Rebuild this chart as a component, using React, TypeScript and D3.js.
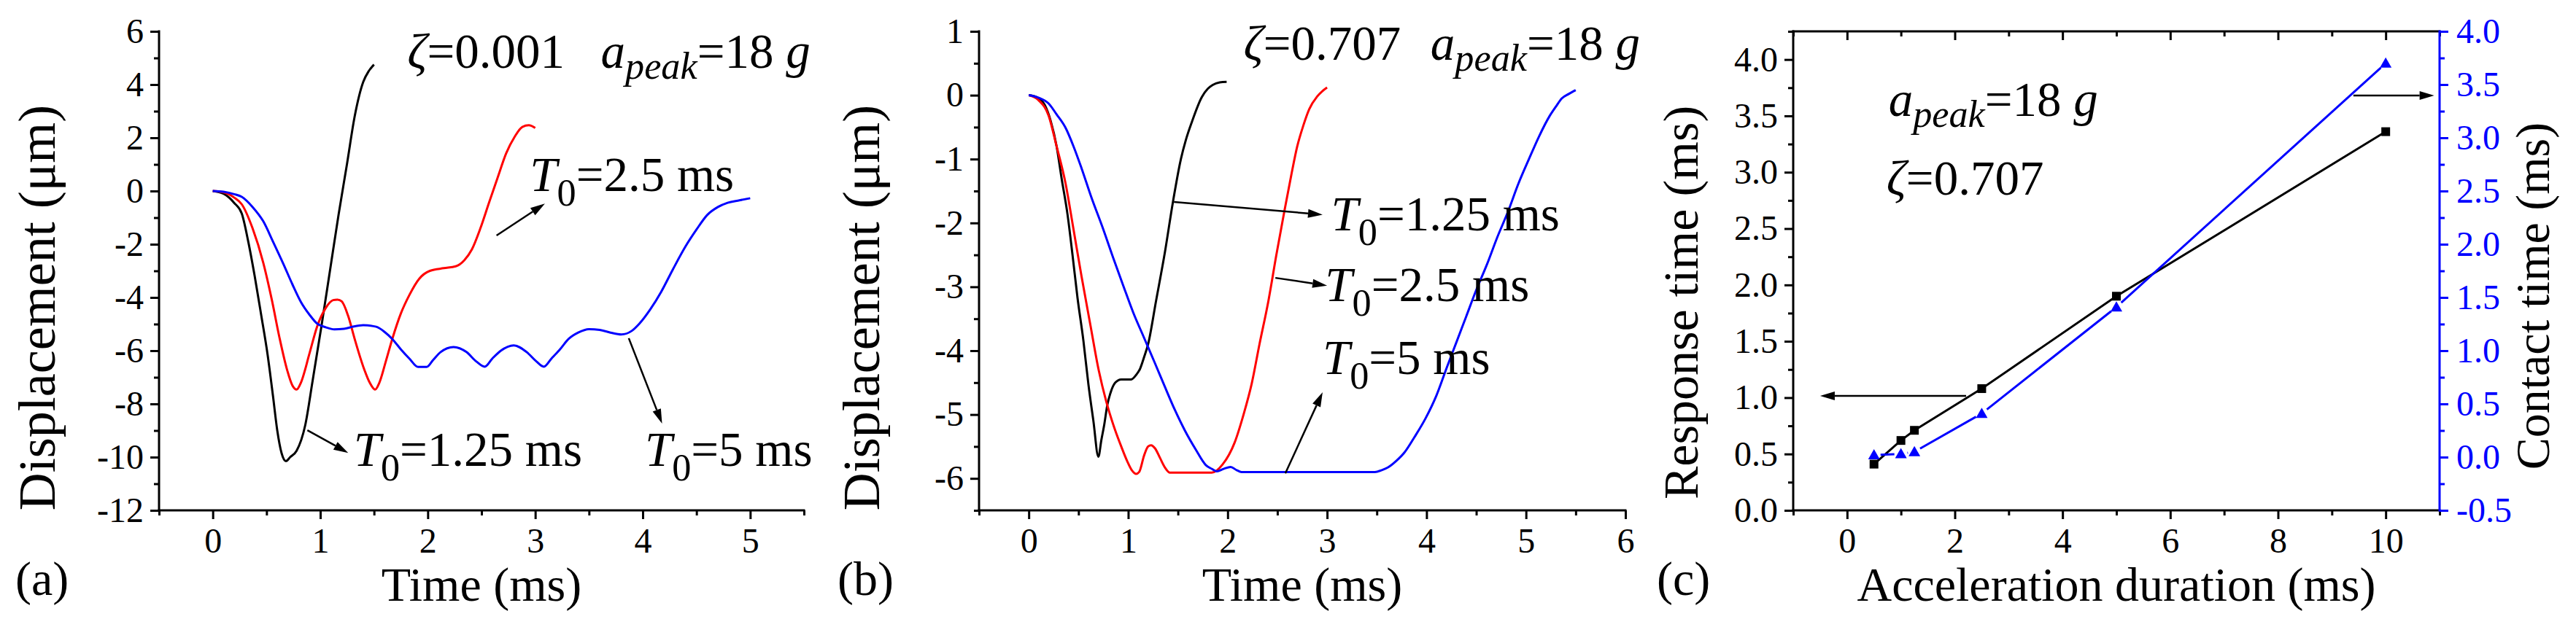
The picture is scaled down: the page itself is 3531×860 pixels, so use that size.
import React, { useEffect, useRef } from "react";
import * as d3 from "d3";

type Pt = [number, number];

// (a) zeta = 0.001, displacement (um) vs time (ms)
const aT125: Pt[] = [
  [0, 0], [0.1, -0.1], [0.2, -0.45], [0.27, -0.85], [0.33, -1.9], [0.39, -3.2], [0.45, -4.65],
  [0.51, -6.15], [0.56, -7.7], [0.6, -9.0], [0.64, -9.85], [0.68, -10.15], [0.72, -10.0],
  [0.78, -9.76], [0.86, -8.8], [0.93, -7.1], [1.01, -5.1], [1.09, -3.0], [1.17, -0.9],
  [1.25, 1.05], [1.32, 2.8], [1.4, 4.1], [1.45, 4.5], [1.5, 4.75],
];
const aT25: Pt[] = [
  [0, 0], [0.1, -0.05], [0.2, -0.25], [0.27, -0.5], [0.37, -1.4], [0.47, -2.7], [0.55, -4.1],
  [0.62, -5.5], [0.69, -6.7], [0.74, -7.3], [0.78, -7.46], [0.82, -7.2], [0.9, -6.1],
  [0.97, -5.1], [1.05, -4.4], [1.12, -4.1], [1.16, -4.08], [1.2, -4.15], [1.26, -4.7],
  [1.32, -5.56], [1.4, -6.6], [1.46, -7.2], [1.51, -7.46], [1.55, -7.2], [1.61, -6.4],
  [1.67, -5.56], [1.75, -4.6], [1.83, -3.9], [1.92, -3.3], [2.02, -3.0], [2.15, -2.9],
  [2.26, -2.83], [2.34, -2.6], [2.41, -2.2], [2.49, -1.4], [2.57, -0.44], [2.65, 0.5],
  [2.73, 1.42], [2.81, 2.05], [2.88, 2.41], [2.94, 2.47], [3.0, 2.37],
];
const aT5: Pt[] = [
  [0, 0], [0.1, -0.03], [0.2, -0.12], [0.27, -0.22], [0.37, -0.6], [0.47, -1.14], [0.56, -1.9],
  [0.66, -2.77], [0.74, -3.5], [0.82, -4.17], [0.9, -4.65], [0.97, -4.98], [1.05, -5.12],
  [1.13, -5.2], [1.22, -5.18], [1.3, -5.1], [1.4, -5.04], [1.52, -5.1], [1.6, -5.3],
  [1.67, -5.56], [1.75, -5.95], [1.83, -6.3], [1.91, -6.61], [1.99, -6.61], [2.05, -6.35],
  [2.12, -6.05], [2.24, -5.86], [2.36, -6.05], [2.45, -6.4], [2.53, -6.6], [2.6, -6.3],
  [2.68, -6.0], [2.8, -5.8], [2.92, -6.05], [3.01, -6.4], [3.08, -6.6], [3.15, -6.3],
  [3.23, -5.95], [3.31, -5.56], [3.4, -5.32], [3.5, -5.19], [3.6, -5.22], [3.7, -5.32],
  [3.8, -5.39], [3.9, -5.25], [3.97, -4.98], [4.07, -4.45], [4.17, -3.8], [4.28, -2.95],
  [4.4, -2.07], [4.5, -1.45], [4.6, -0.9], [4.7, -0.6], [4.79, -0.44], [4.9, -0.35], [5.0, -0.27],
];

// (b) zeta = 0.707
const bT125: Pt[] = [
  [0, 0], [0.08, -0.03], [0.16, -0.15], [0.22, -0.4], [0.28, -0.8], [0.33, -1.3], [0.39, -1.87],
  [0.44, -2.5], [0.49, -3.17], [0.55, -3.85], [0.6, -4.53], [0.65, -5.1], [0.7, -5.66],
  [0.73, -5.4], [0.76, -5.15], [0.79, -4.85], [0.82, -4.67], [0.87, -4.5], [0.93, -4.45],
  [1.03, -4.45], [1.08, -4.38], [1.12, -4.28], [1.16, -4.1], [1.2, -3.9], [1.28, -3.22],
  [1.37, -2.45], [1.45, -1.67], [1.53, -1.0], [1.58, -0.7], [1.64, -0.42], [1.74, -0.03],
  [1.8, 0.1], [1.85, 0.16], [1.92, 0.2], [1.99, 0.21],
];
const bT25: Pt[] = [
  [0, 0], [0.1, -0.08], [0.2, -0.32], [0.28, -0.8], [0.37, -1.38], [0.45, -2.1], [0.53, -2.83],
  [0.62, -3.6], [0.7, -4.28], [0.78, -4.8], [0.87, -5.25], [0.93, -5.5], [0.99, -5.73],
  [1.04, -5.88], [1.08, -5.93], [1.11, -5.9], [1.16, -5.64], [1.2, -5.5], [1.23, -5.48],
  [1.27, -5.53], [1.32, -5.68], [1.37, -5.83], [1.42, -5.91], [1.84, -5.91], [1.95, -5.78],
  [2.07, -5.44], [2.16, -5.0], [2.24, -4.53], [2.32, -3.9], [2.41, -3.22], [2.49, -2.5],
  [2.57, -1.82], [2.64, -1.25], [2.7, -0.8], [2.76, -0.48], [2.82, -0.22], [2.9, -0.02],
  [2.95, 0.06], [3.0, 0.12],
];
const bT5: Pt[] = [
  [0, 0], [0.1, -0.04], [0.2, -0.13], [0.28, -0.3], [0.37, -0.51], [0.45, -0.8], [0.53, -1.14],
  [0.63, -1.6], [0.74, -2.06], [0.85, -2.55], [0.95, -2.98], [1.05, -3.4], [1.16, -3.8],
  [1.27, -4.2], [1.37, -4.57], [1.47, -4.93], [1.57, -5.25], [1.68, -5.55], [1.78, -5.79],
  [1.84, -5.85], [1.89, -5.89], [1.96, -5.85], [2.03, -5.82], [2.09, -5.87], [2.14, -5.9],
  [3.48, -5.9], [3.55, -5.87], [3.61, -5.83], [3.7, -5.72], [3.78, -5.59], [3.88, -5.35],
  [3.99, -5.06], [4.1, -4.7], [4.2, -4.28], [4.3, -3.87], [4.4, -3.46], [4.5, -3.05],
  [4.61, -2.64], [4.71, -2.23], [4.82, -1.82], [4.92, -1.4], [5.03, -1.0], [5.13, -0.65],
  [5.24, -0.32], [5.3, -0.18], [5.36, -0.05], [5.43, 0.02], [5.5, 0.08],
];

// (c) response / contact time vs acceleration duration
const durations = [0.5, 1, 1.25, 2.5, 5, 10];
const responseTime = [0.41, 0.62, 0.71, 1.08, 1.9, 3.36];
const contactTime = [0.02, 0.03, 0.05, 0.41, 1.41, 3.7];

// ticks
const xMajorA = [0, 1, 2, 3, 4, 5];
const xMinorA = d3.range(-0.5, 5.51, 1);
const yMajorA = d3.range(-12, 6.1, 2);
const yMinorA = d3.range(-11, 6, 2);
const xMajorB = [0, 1, 2, 3, 4, 5, 6];
const xMinorB = d3.range(-0.5, 6, 1);
const yMajorB = [-6, -5, -4, -3, -2, -1, 0, 1];
const yMinorB = d3.range(-6.5, 1, 1);
const xMajorC = [0, 2, 4, 6, 8, 10];
const xMinorC = [-1, 1, 3, 5, 7, 9, 11];
const yMajorC = d3.range(0, 4.01, 0.5);
const yMinorC = d3.range(0.25, 4.3, 0.5);
const yMajorCR = d3.range(-0.5, 4.01, 0.5);
const yMinorCR = d3.range(-0.25, 4, 0.5);

const W = 3531;
const H = 860;
const TOP = 43;
const BOT = 700;
const FONT = "'Liberation Serif', 'Times New Roman', serif";
const RED = "#ff0000";
const BLUE = "#0000ff";

type Part = { t: string; it?: boolean; sub?: boolean };

const App: React.FC = () => {
  const svgRef = useRef<SVGSVGElement | null>(null);

  useEffect(() => {
    const svg = d3.select(svgRef.current);
    svg.selectAll("*").remove();
    svg.append("style").text(`text, tspan { font-family: ${FONT}; }`);

    const drawAxis = (
      kind: "bottom" | "left" | "right" | "top",
      scale: d3.ScaleLinear<number, number>,
      pos: number,
      major: number[],
      minor: number[],
      fmt: ((d: number) => string) | null,
      color = "#000",
      inward = false
    ) => {
      const maker =
        kind === "bottom" ? d3.axisBottom : kind === "left" ? d3.axisLeft : kind === "right" ? d3.axisRight : d3.axisTop;
      const horiz = kind === "bottom" || kind === "top";
      const tr = horiz ? `translate(0,${pos})` : `translate(${pos},0)`;
      const s = inward ? -1 : 1;
      const gMin = svg.append("g").attr("transform", tr)
        .call(maker(scale).tickValues(minor).tickSize(7 * s).tickFormat(() => ""));
      const gMaj = svg.append("g").attr("transform", tr)
        .call(
          maker(scale)
            .tickValues(major)
            .tickSize(12 * s)
            .tickPadding(horiz ? 12 : kind === "right" ? 11 : 9)
            .tickFormat(fmt ? (d) => fmt(+d) : () => "")
        );
      [gMin, gMaj].forEach((g) => {
        g.select(".domain").remove();
        g.attr("font-family", FONT).attr("font-size", 48);
        g.selectAll(".tick line").attr("stroke", color).attr("stroke-width", 3);
        g.selectAll(".tick text").attr("fill", color);
      });
      const [r0, r1] = scale.range();
      const lo = Math.min(r0, r1) - 1.5;
      const hi = Math.max(r0, r1) + 1.5;
      if (horiz) {
        svg.append("line").attr("x1", lo).attr("x2", hi).attr("y1", pos).attr("y2", pos)
          .attr("stroke", color).attr("stroke-width", 3);
      } else {
        svg.append("line").attr("y1", lo).attr("y2", hi).attr("x1", pos).attr("x2", pos)
          .attr("stroke", color).attr("stroke-width", 3);
      }
    };

    const richText = (x: number, y: number, parts: Part[], size = 67, subDy = 20) => {
      const t = svg.append("text").attr("x", x).attr("y", y)
        .attr("font-size", size).style("white-space", "pre");
      let down = false;
      parts.forEach((p) => {
        const ts = t.append("tspan").text(p.t);
        if (p.it) ts.attr("font-style", "italic");
        if (p.sub) {
          ts.attr("font-size", size * 0.78);
          if (!down) ts.attr("dy", subDy);
          down = true;
        } else if (down) {
          ts.attr("dy", -subDy);
          down = false;
        }
      });
    };

    const arrow = (x1: number, y1: number, x2: number, y2: number) => {
      const ang = Math.atan2(y2 - y1, x2 - x1);
      const L = 20;
      const hw = 6;
      const bx = x2 - L * Math.cos(ang);
      const by = y2 - L * Math.sin(ang);
      svg.append("line").attr("x1", x1).attr("y1", y1).attr("x2", bx).attr("y2", by)
        .attr("stroke", "#000").attr("stroke-width", 2.5);
      const px = -Math.sin(ang) * hw;
      const py = Math.cos(ang) * hw;
      svg.append("path")
        .attr("d", `M${x2},${y2}L${bx + px},${by + py}L${bx - px},${by - py}Z`)
        .attr("fill", "#000");
    };

    const axisTitle = (x: number, y: number, text: string, size: number, rotate: boolean) => {
      svg.append("text")
        .attr("transform", rotate ? `translate(${x},${y}) rotate(-90)` : `translate(${x},${y})`)
        .attr("text-anchor", "middle").attr("font-size", size)
        .text(text);
    };

    const T0 = (v: string): Part[] => [{ t: "T", it: true }, { t: "0", sub: true }, { t: `=${v} ms` }];
    const apeak: Part[] = [{ t: "a", it: true }, { t: "peak", it: true, sub: true }, { t: "=18 " }, { t: "g", it: true }];
    const plainNum = (d: number) => String(d);
    const oneDec = (d: number) => d.toFixed(1);

    // ---------- (a) ----------
    const xA = d3.scaleLinear().domain([-0.5, 5.5]).range([218, 1102]);
    const yA = d3.scaleLinear().domain([-12, 6]).range([BOT, TOP]);
    const lineA = d3.line<Pt>().x((d) => xA(d[0])).y((d) => yA(d[1])).curve(d3.curveMonotoneX);
    drawAxis("bottom", xA, BOT, xMajorA, xMinorA, plainNum);
    drawAxis("left", yA, 218, yMajorA, yMinorA, plainNum);
    [[aT125, "#000"], [aT25, RED], [aT5, BLUE]].forEach(([data, c]) => {
      svg.append("path").attr("d", lineA(data as Pt[])).attr("fill", "none")
        .attr("stroke", c as string).attr("stroke-width", 3);
    });
    richText(xA(1.81), yA(4.63), [{ t: "ζ", it: true }, { t: "=0.001" }]);
    richText(xA(3.61), yA(4.63), apeak, 67, 15);
    richText(xA(2.95), yA(0), T0("2.5"));
    arrow(xA(2.64), yA(-1.67), xA(3.09), yA(-0.47));
    richText(xA(1.31), yA(-10.33), T0("1.25"));
    arrow(xA(0.88), yA(-8.99), xA(1.26), yA(-9.84));
    richText(xA(4.02), yA(-10.33), T0("5"));
    arrow(xA(3.87), yA(-5.53), xA(4.18), yA(-8.74));
    axisTitle(660, 824, "Time (ms)", 66, false);
    axisTitle(75, 422, "Displacement (μm)", 72, true);
    svg.append("text").attr("x", 21).attr("y", 816).attr("font-size", 66).text("(a)");

    // ---------- (b) ----------
    const xB = d3.scaleLinear().domain([-0.5, 6]).range([1342, 2228]);
    const yB = d3.scaleLinear().domain([-6.5, 1]).range([BOT, TOP]);
    const lineB = d3.line<Pt>().x((d) => xB(d[0])).y((d) => yB(d[1])).curve(d3.curveMonotoneX);
    drawAxis("bottom", xB, BOT, xMajorB, xMinorB, plainNum);
    drawAxis("left", yB, 1342, yMajorB, yMinorB, plainNum);
    [[bT125, "#000"], [bT25, RED], [bT5, BLUE]].forEach(([data, c]) => {
      svg.append("path").attr("d", lineB(data as Pt[])).attr("fill", "none")
        .attr("stroke", c as string).attr("stroke-width", 3);
    });
    richText(xB(2.16), yB(0.555), [{ t: "ζ", it: true }, { t: "=0.707" }]);
    richText(xB(4.04), yB(0.555), apeak, 67, 15);
    richText(xB(3.04), yB(-2.12), T0("1.25"));
    arrow(xB(1.46), yB(-1.67), xB(2.955), yB(-1.87));
    richText(xB(2.98), yB(-3.22), T0("2.5"));
    arrow(xB(2.48), yB(-2.86), xB(3.0), yB(-2.98));
    richText(xB(2.955), yB(-4.37), T0("5"));
    arrow(xB(2.58), yB(-5.92), xB(2.955), yB(-4.65));
    axisTitle(1785, 824, "Time (ms)", 66, false);
    axisTitle(1205, 422, "Displacement (μm)", 72, true);
    svg.append("text").attr("x", 1148).attr("y", 816).attr("font-size", 66).text("(b)");

    // ---------- (c) ----------
    const xC = d3.scaleLinear().domain([-1, 11]).range([2458, 3344]);
    const yCL = d3.scaleLinear().domain([0, 4.25]).range([BOT, TOP]);
    const yCR = d3.scaleLinear().domain([-0.5, 4]).range([BOT, TOP]);
    drawAxis("bottom", xC, BOT, xMajorC, xMinorC, plainNum);
    drawAxis("top", xC, TOP, xMajorC, xMinorC, null, "#000", true);
    drawAxis("left", yCL, 2458, yMajorC, yMinorC, oneDec);
    drawAxis("right", yCR, 3344, yMajorCR, yMinorCR, oneDec, BLUE);

    const resp = durations.map((d, i) => [xC(d), yCL(responseTime[i])] as Pt);
    const cont = durations.map((d, i) => [xC(d), yCR(contactTime[i])] as Pt);

    svg.append("path").attr("d", d3.line()(resp)).attr("fill", "none")
      .attr("stroke", "#000").attr("stroke-width", 3);
    // blue line leaves a small gap round each symbol
    const gap = 9;
    for (let i = 0; i < cont.length - 1; i++) {
      const [x1, y1] = cont[i];
      const [x2, y2] = cont[i + 1];
      const len = Math.hypot(x2 - x1, y2 - y1);
      if (len <= 2 * gap) continue;
      const ux = (x2 - x1) / len;
      const uy = (y2 - y1) / len;
      svg.append("line")
        .attr("x1", x1 + ux * gap).attr("y1", y1 + uy * gap)
        .attr("x2", x2 - ux * gap).attr("y2", y2 - uy * gap)
        .attr("stroke", BLUE).attr("stroke-width", 3);
    }
    svg.selectAll(".sq").data(resp).enter().append("rect")
      .attr("x", (d) => d[0] - 6).attr("y", (d) => d[1] - 6)
      .attr("width", 12).attr("height", 12).attr("fill", "#000");
    svg.selectAll(".tri").data(cont).enter().append("path")
      .attr("d", (d) => `M${d[0]},${d[1] - 8}L${d[0] + 8},${d[1] + 6}L${d[0] - 8},${d[1] + 6}Z`)
      .attr("fill", BLUE);

    richText(xC(0.77), yCL(3.5), apeak, 67, 15);
    richText(xC(0.73), yCL(2.8), [{ t: "ζ", it: true }, { t: "=0.707" }]);
    arrow(xC(2.21), yCL(1.016), xC(-0.5), yCL(1.016));
    arrow(xC(9.4), yCL(3.68), xC(10.9), yCL(3.68));
    axisTitle(2901, 824, "Acceleration duration (ms)", 66, false);
    axisTitle(2327, 415, "Response time (ms)", 68, true);
    axisTitle(3494, 406, "Contact time (ms)", 66, true);
    svg.append("text").attr("x", 2271).attr("y", 816).attr("font-size", 66).text("(c)");
  }, []);

  return (
    <svg
      ref={svgRef}
      width={W}
      height={H}
      style={{ position: "absolute", left: 0, top: 0, background: "#ffffff" }}
    />
  );
};

export default App;
